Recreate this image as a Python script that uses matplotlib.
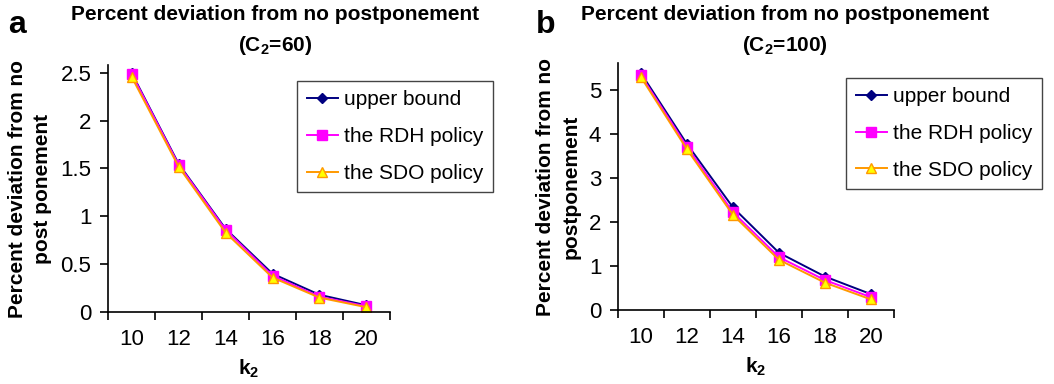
import matplotlib
matplotlib.use("Agg")
import matplotlib.pyplot as plt

plt.rcParams['font.family'] = ['Liberation Sans', 'DejaVu Sans']
plt.rcParams['mathtext.fontset'] = 'custom'
plt.rcParams['mathtext.rm'] = 'Liberation Sans'
plt.rcParams['mathtext.bf'] = 'Liberation Sans:bold'
plt.rcParams['mathtext.default'] = 'bf'

# data
k2 = ['10', '12', '14', '16', '18', '20']

upper_a = [2.50, 1.55, 0.87, 0.40, 0.18, 0.07]
rdh_a = [2.49, 1.54, 0.86, 0.38, 0.16, 0.06]
sdo_a = [2.46, 1.52, 0.83, 0.36, 0.15, 0.05]

upper_b = [5.38, 3.77, 2.33, 1.30, 0.76, 0.36]
rdh_b = [5.33, 3.71, 2.22, 1.20, 0.68, 0.29]
sdo_b = [5.29, 3.65, 2.16, 1.14, 0.62, 0.24]

series_names = ['upper bound', 'the RDH policy', 'the SDO policy']

fig = plt.figure(figsize=(10.54, 3.84), dpi=100)

panels = [
    dict(rect=[0.1025, 0.1875, 0.2675, 0.643], data=(upper_a, rdh_a, sdo_a),
         ylim=2.58, yticks=[0, 0.5, 1, 1.5, 2, 2.5], yticklabels=['0', '0.5', '1', '1.5', '2', '2.5'],
         title='Percent deviation from no postponement\n(C$_2$=60)',
         ylabel='Percent deviation from no\npost ponement', letter='a',
         letter_xy=(0.008, 0.935), leg=(0.282, 0.789), title_x=0.261),
    dict(rect=[0.5863, 0.1927, 0.2619, 0.643], data=(upper_b, rdh_b, sdo_b),
         ylim=5.61, yticks=[0, 1, 2, 3, 4, 5], yticklabels=['0', '1', '2', '3', '4', '5'],
         title='Percent deviation from no postponement\n(C$_2$=100)',
         ylabel='Percent deviation from no\npostponement', letter='b',
         letter_xy=(0.508, 0.935), leg=(0.803, 0.797), title_x=0.745),
]

for p in panels:
    ax = fig.add_axes(p['rect'])
    x = range(len(k2))
    up, rdh, sdo = p['data']
    ax.plot(x, up, color='#000080', marker='D', markersize=5.5, lw=1.4,
            markerfacecolor='#000080', markeredgecolor='#000080', label=series_names[0])
    ax.plot(x, rdh, color='#FF00FF', marker='s', markersize=6.5, lw=1.4,
            markerfacecolor='#FF00FF', markeredgecolor='#FF00FF', label=series_names[1])
    ax.plot(x, sdo, color='#FF9900', marker='^', markersize=7.5, lw=1.4,
            markerfacecolor='#FFFF00', markeredgecolor='#FF9900', label=series_names[2])

    ax.set_xlim(-0.5, len(k2) - 0.5)
    ax.set_ylim(0, p['ylim'])
    ax.set_xticks(list(x))
    ax.set_xticklabels(k2, fontsize=16)
    ax.set_xticks([i - 0.5 for i in range(len(k2) + 1)], minor=True)
    ax.tick_params(axis='x', which='major', length=0, pad=12)
    ax.tick_params(axis='x', which='minor', length=6, width=1.2, direction='out')
    ax.set_yticks(p['yticks'])
    ax.set_yticklabels(p['yticklabels'], fontsize=16)
    ax.tick_params(axis='y', length=6, width=1.2, direction='out', pad=6)
    for s in ['top', 'right']:
        ax.spines[s].set_visible(False)
    for s in ['left', 'bottom']:
        ax.spines[s].set_linewidth(1.2)

    ax.set_xlabel(r'$k_2$', fontsize=15, labelpad=6)
    ax.set_ylabel(p['ylabel'], fontsize=15, fontweight='bold', labelpad=6, linespacing=1.4)

    fig.text(p['title_x'], 0.988, p['title'], ha='center', va='top', fontsize=15,
             fontweight='bold', linespacing=1.6)
    fig.text(p['letter_xy'][0], p['letter_xy'][1], p['letter'], fontsize=23,
             fontweight='bold', va='center')

    leg = ax.legend(loc='upper left', bbox_to_anchor=p['leg'], bbox_transform=fig.transFigure,
                    borderaxespad=0, fancybox=False, framealpha=1, edgecolor='#444444',
                    fontsize=15, handlelength=1.5, handletextpad=0.3, labelspacing=0.85,
                    borderpad=0.45)
    leg.get_frame().set_linewidth(1.0)

fig.savefig('out.png', dpi=100)
